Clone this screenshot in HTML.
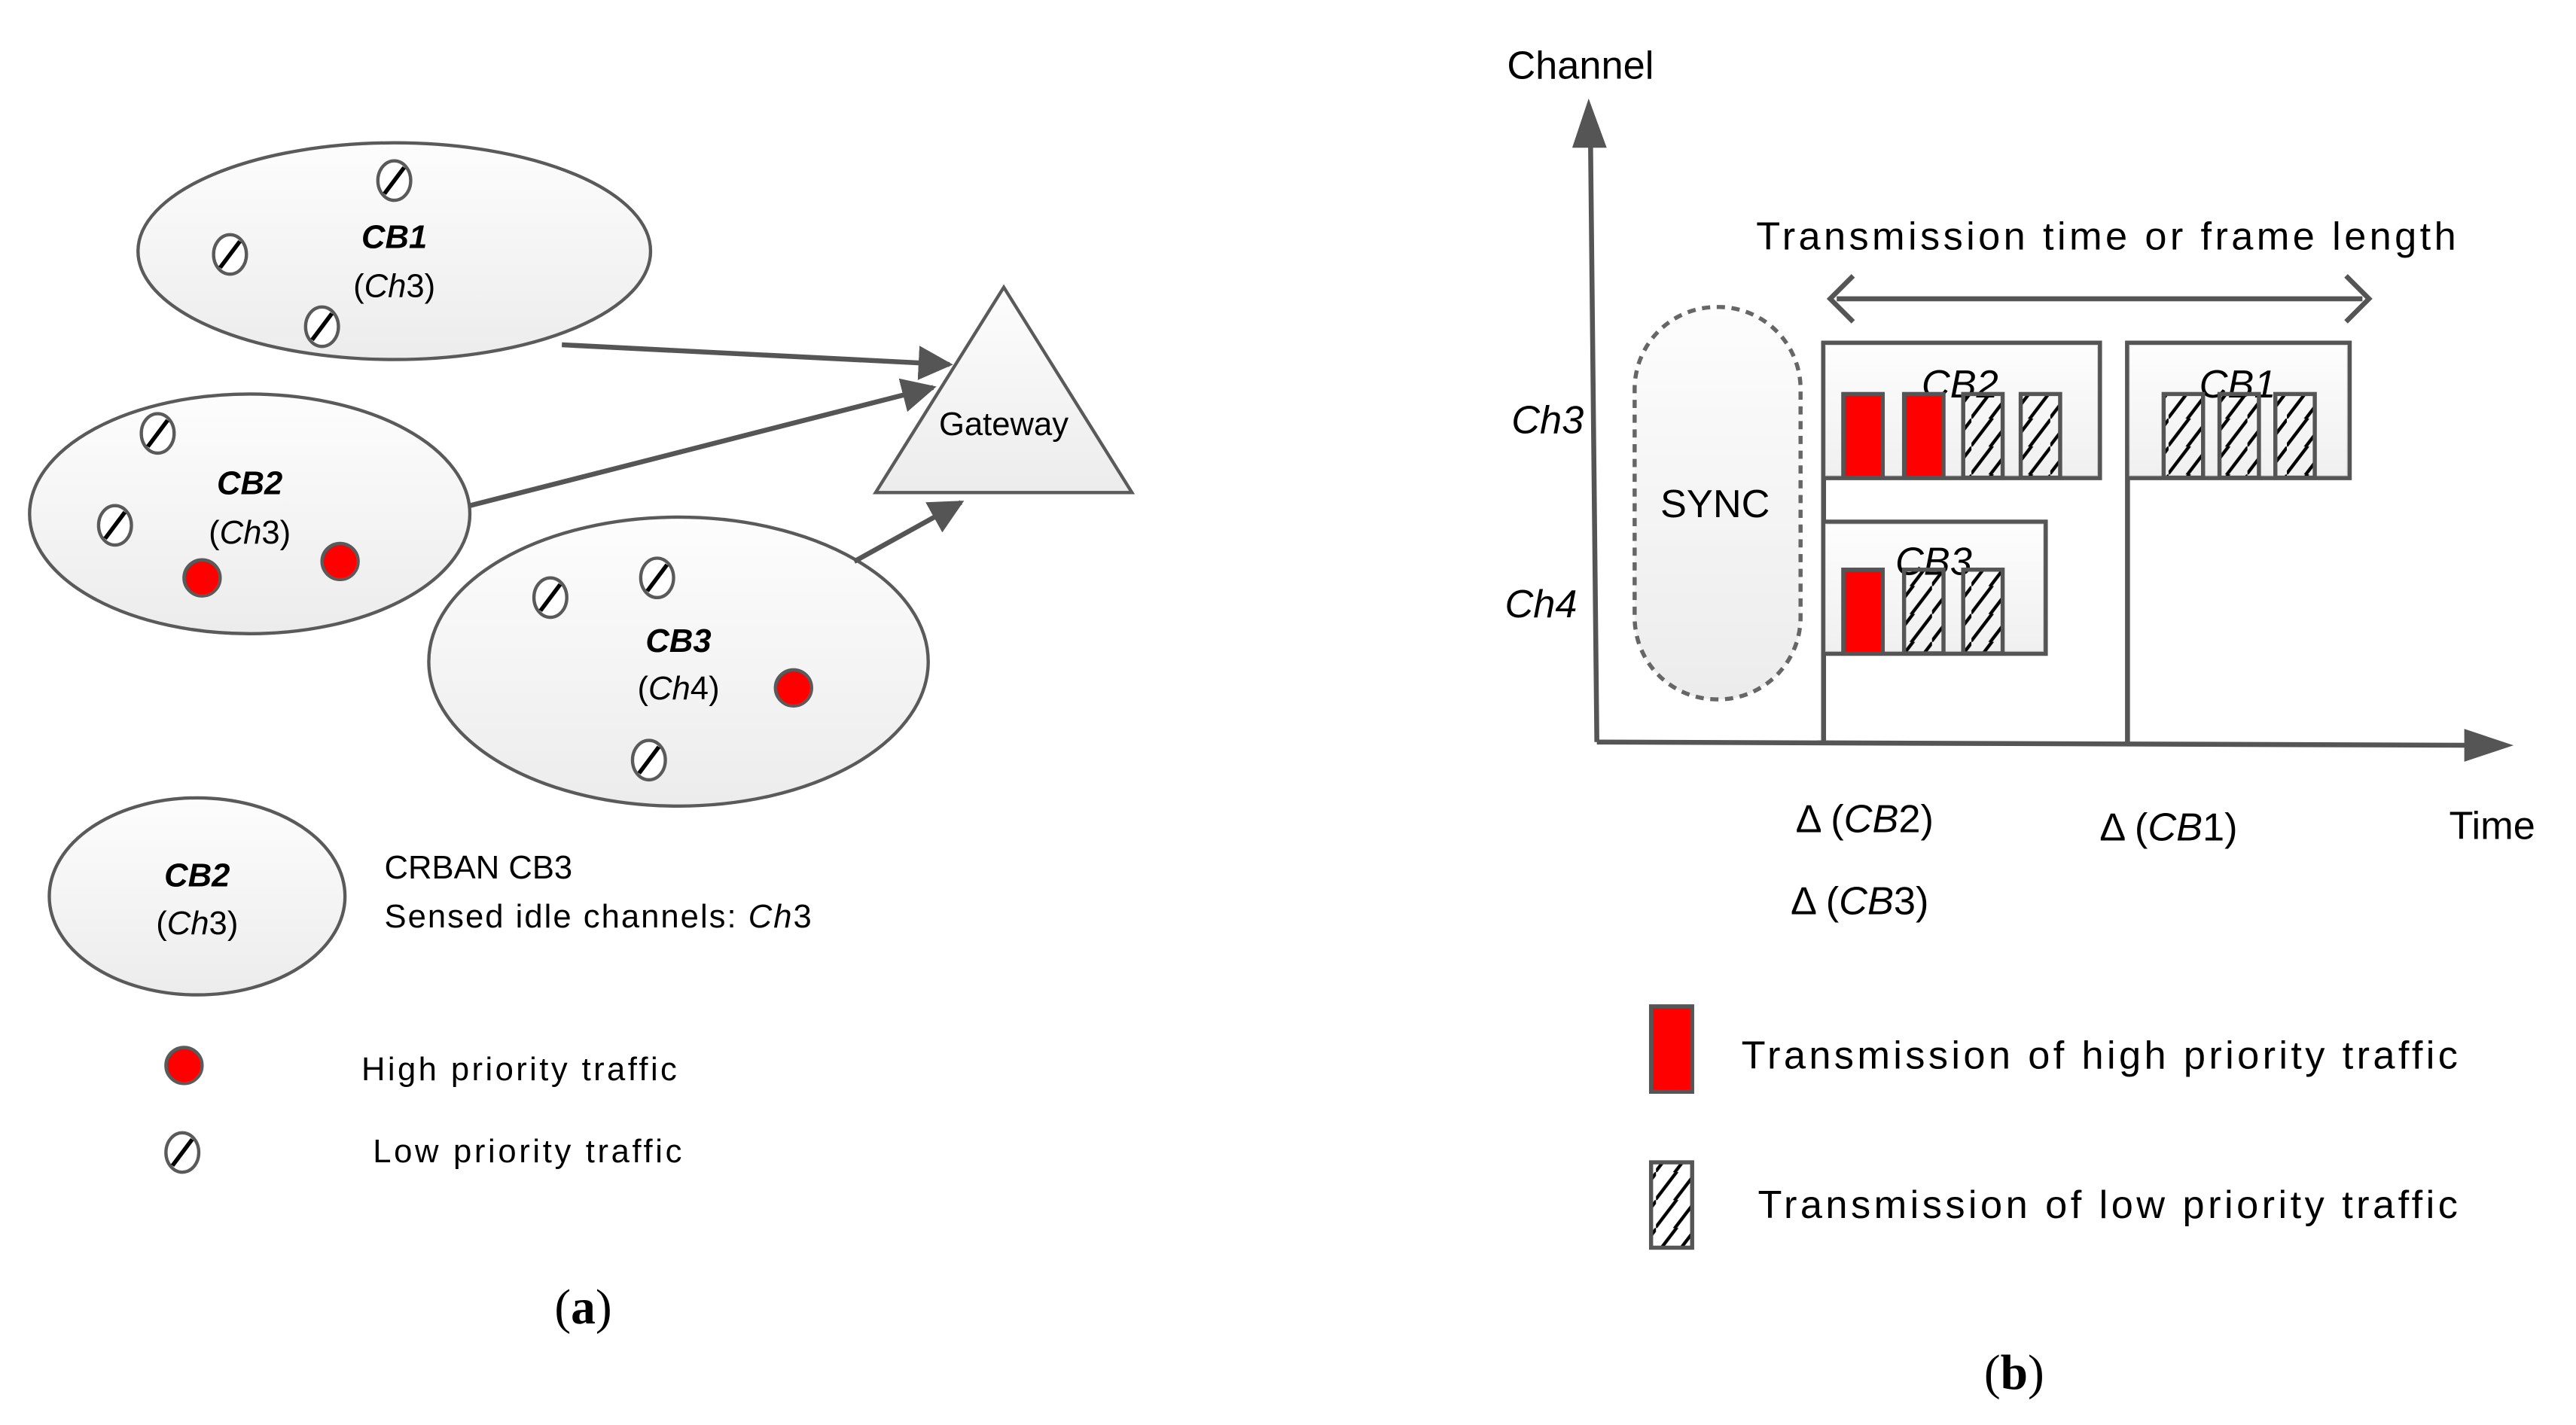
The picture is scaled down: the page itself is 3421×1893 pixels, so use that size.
<!DOCTYPE html>
<html><head><meta charset="utf-8"><style>
html,body{margin:0;padding:0;background:#fff}
svg{display:block}
text{font-family:"Liberation Sans",sans-serif;fill:#000}
</style></head><body>
<svg width="3421" height="1893" viewBox="0 0 1568 868" preserveAspectRatio="none" xmlns="http://www.w3.org/2000/svg">
<defs>
<linearGradient id="g" x1="0" y1="0" x2="0" y2="1"><stop offset="0" stop-color="#fdfdfd"/><stop offset="1" stop-color="#ececec"/></linearGradient>
<pattern id="h" width="24" height="17" patternUnits="userSpaceOnUse"><path d="M-2,19 L14,-2 M10,19 L26,-2" stroke="#000" stroke-width="2"/></pattern>
<marker id="ar" viewBox="0 0 10 10" refX="9" refY="5" markerWidth="7" markerHeight="7" orient="auto"><path d="M0,0 L10,5 L0,10 z" fill="#555"/></marker>
<g id="low"><ellipse cx="0" cy="0" rx="10" ry="12" fill="#fff" stroke="#5a5a5a" stroke-width="2"/><path d="M-6,8 L6,-8" stroke="#000" stroke-width="2.5"/></g>
<g id="hi"><circle cx="0" cy="0" r="11" fill="#f00" stroke="#5a5a5a" stroke-width="2"/></g>
</defs>

<ellipse cx="240" cy="153" rx="156" ry="66" fill="url(#g)" stroke="#5a5a5a" stroke-width="2"/>
<ellipse cx="152" cy="313" rx="134" ry="73" fill="url(#g)" stroke="#5a5a5a" stroke-width="2"/>
<ellipse cx="413" cy="403" rx="152" ry="88" fill="url(#g)" stroke="#5a5a5a" stroke-width="2"/>
<polygon points="611,175 533,300 689,300" fill="url(#g)" stroke="#5a5a5a" stroke-width="2"/>
<text x="611" y="265" font-size="20" text-anchor="middle">Gateway</text>
<g stroke="#555" stroke-width="3" fill="none">
<line x1="342" y1="210" x2="578" y2="222" marker-end="url(#ar)"/>
<line x1="286" y1="308" x2="568" y2="236" marker-end="url(#ar)"/>
<line x1="520" y1="342" x2="585" y2="306" marker-end="url(#ar)"/>
</g>
<use href="#low" x="240" y="110"/><use href="#low" x="140" y="155"/><use href="#low" x="196" y="199"/>
<use href="#low" x="96" y="264"/><use href="#low" x="70" y="320"/><use href="#low" x="400" y="352"/>
<use href="#low" x="335" y="364"/><use href="#low" x="395" y="463"/><use href="#low" x="111" y="702"/>
<use href="#hi" x="123" y="352"/><use href="#hi" x="207" y="342"/><use href="#hi" x="483" y="419"/><use href="#hi" x="112" y="649"/>
<g font-size="20" text-anchor="middle">
<text x="240" y="151" font-weight="bold" font-style="italic">CB1</text>
<text x="240" y="181">(<tspan font-style="italic">Ch</tspan>3)</text>
<text x="152" y="301" font-weight="bold" font-style="italic">CB2</text>
<text x="152" y="331">(<tspan font-style="italic">Ch</tspan>3)</text>
<text x="413" y="397" font-weight="bold" font-style="italic">CB3</text>
<text x="413" y="426">(<tspan font-style="italic">Ch</tspan>4)</text>
</g>
<ellipse cx="120" cy="546" rx="90" ry="60" fill="url(#g)" stroke="#5a5a5a" stroke-width="2"/>
<g font-size="20" text-anchor="middle">
<text x="120" y="540" font-weight="bold" font-style="italic">CB2</text>
<text x="120" y="569">(<tspan font-style="italic">Ch</tspan>3)</text>
</g>
<g font-size="20">
<text x="234" y="535">CRBAN CB3</text>
<text x="234" y="565" textLength="260">Sensed idle channels: <tspan font-style="italic">Ch</tspan>3</text>
<text x="220" y="658" textLength="192">High priority traffic</text>
<text x="227" y="708" textLength="188">Low priority traffic</text>
</g>
<text x="355" y="806" font-size="30" text-anchor="middle" style="font-family:'Liberation Serif',serif">(<tspan font-weight="bold">a</tspan>)</text>

<g stroke="#555" stroke-width="3" fill="none">
<line x1="972" y1="452" x2="968" y2="72"/>
<line x1="972" y1="452" x2="1515" y2="454"/>
<line x1="1118" y1="182" x2="1438" y2="182"/>
<polyline points="1128,168 1114,182 1128,196"/>
<polyline points="1428,168 1442,182 1428,196"/>
</g>
<polygon points="967,60 957,90 978,90" fill="#555"/>
<polygon points="1530,454 1500,444 1500,464" fill="#555"/>
<text x="962" y="48" font-size="24" text-anchor="middle">Channel</text>
<text x="1282" y="152" font-size="24" text-anchor="middle" textLength="426">Transmission time or frame length</text>
<rect x="995" y="187" width="101" height="239" rx="50" ry="50" fill="url(#g)" stroke="#666" stroke-width="2.5" stroke-dasharray="5,4"/>
<text x="1044" y="315" font-size="24" text-anchor="middle">SYNC</text>
<g stroke="#555" stroke-width="3" fill="none">
<polyline points="1110,452 1110,209 1278,209 1278,291 1110,291"/>
<polyline points="1295,452 1295,209 1430,209 1430,291 1295,291"/>
<polyline points="1110,318 1245,318 1245,398 1110,398"/>
</g>
<rect x="1111" y="210" width="166" height="80" fill="url(#g)" opacity="0.8"/>
<rect x="1296" y="210" width="133" height="80" fill="url(#g)" opacity="0.8"/>
<rect x="1111" y="319" width="133" height="78" fill="url(#g)" opacity="0.8"/>
<g font-size="24" font-style="italic" text-anchor="middle">
<text x="1193" y="242">CB2</text><text x="1362" y="242">CB1</text><text x="1177" y="350">CB3</text>
</g>
<g stroke="#555" stroke-width="2.5">
<rect x="1122" y="240" width="24" height="51" fill="#f00"/>
<rect x="1159" y="240" width="24" height="51" fill="#f00"/>
<rect x="1195" y="240" width="24" height="51" fill="url(#h)"/>
<rect x="1230" y="240" width="24" height="51" fill="url(#h)"/>
<rect x="1317" y="240" width="24" height="51" fill="url(#h)"/>
<rect x="1351" y="240" width="24" height="51" fill="url(#h)"/>
<rect x="1385" y="240" width="24" height="51" fill="url(#h)"/>
<rect x="1122" y="347" width="24" height="51" fill="#f00"/>
<rect x="1159" y="347" width="24" height="51" fill="url(#h)"/>
<rect x="1195" y="347" width="24" height="51" fill="url(#h)"/>
<rect x="1005" y="613" width="25" height="52" fill="#f00"/>
<rect x="1005" y="708" width="25" height="52" fill="url(#h)"/>
</g>
<g font-size="24">
<text x="942" y="264" text-anchor="middle" font-style="italic">Ch3</text>
<text x="938" y="376" text-anchor="middle" font-style="italic">Ch4</text>
<text x="1135" y="507" text-anchor="middle">Δ (<tspan font-style="italic">CB</tspan>2)</text>
<text x="1132" y="557" text-anchor="middle">Δ (<tspan font-style="italic">CB</tspan>3)</text>
<text x="1320" y="512" text-anchor="middle">Δ (<tspan font-style="italic">CB</tspan>1)</text>
<text x="1517" y="511" text-anchor="middle">Time</text>
<text x="1060" y="651" textLength="436">Transmission of high priority traffic</text>
<text x="1070" y="742" textLength="426">Transmission of low priority traffic</text>
</g>
<text x="1226" y="846" font-size="30" text-anchor="middle" style="font-family:'Liberation Serif',serif">(<tspan font-weight="bold">b</tspan>)</text>
</svg>
</body></html>
